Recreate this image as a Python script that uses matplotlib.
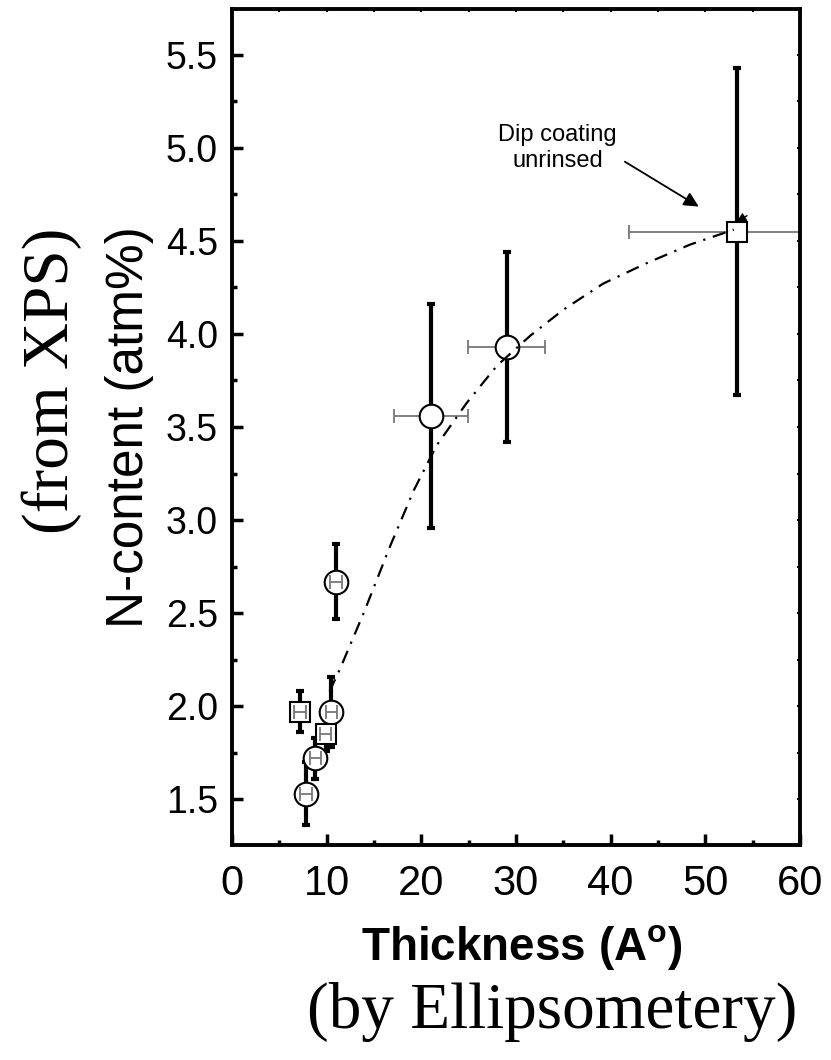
import numpy as np
import matplotlib
matplotlib.use('Agg')
import matplotlib.pyplot as plt
from matplotlib.ticker import MultipleLocator

# circles (open)
circle_x = [7.8, 8.8, 10.5, 11.0, 21.0, 29.0]
circle_y = [1.53, 1.72, 1.97, 2.67, 3.56, 3.93]
circle_xerr = [0.6, 0.6, 0.6, 0.6, 3.9, 4.1]
circle_yerr = [0.17, 0.11, 0.19, 0.2, 0.6, 0.51]

# squares (open)
square_x = [7.2, 9.9, 53.3]
square_y = [1.97, 1.85, 4.55]
square_xerr = [0.6, 0.6, 11.4]
square_yerr = [0.11, 0.09, 0.88]

# dash-dot guide curve
fit_x = [10.3, 11.4, 13.9, 16.7, 19.2, 21.6, 24.8, 28.0, 31.5, 35.0, 39.2, 43.8, 48.4, 53.0]
fit_y = [2.08, 2.20, 2.50, 2.86, 3.16, 3.40, 3.63, 3.83, 3.99, 4.13, 4.27, 4.38, 4.48, 4.56]

x_ticks = [0, 10, 20, 30, 40, 50, 60]
y_ticks = [1.5, 2.0, 2.5, 3.0, 3.5, 4.0, 4.5, 5.0, 5.5]

sans = ['Liberation Sans', 'DejaVu Sans']
serif = ['Liberation Serif', 'DejaVu Serif']
plt.rcParams['font.family'] = sans
plt.rcParams['mathtext.fontset'] = 'custom'
plt.rcParams['mathtext.rm'] = 'Liberation Sans:bold'

fig = plt.figure(figsize=(8.31, 10.6), dpi=100)
fig.patch.set_facecolor('white')
ax = fig.add_axes([0.2792, 0.2028, 0.6835, 0.7887])


def draw_points(xs, ys, xerrs, yerrs, marker, msize):
    for x, y, xe, ye in zip(xs, ys, xerrs, yerrs):
        # thick vertical error bar behind the marker
        ax.errorbar(x, y, yerr=ye, fmt='none', ecolor='black', elinewidth=3,
                    capsize=3, capthick=3, zorder=2)
        # thin grey horizontal bar; small ones show on top of marker
        z = 5 if xe < 1 else 1
        ax.errorbar(x, y, xerr=xe, fmt='none', ecolor='#777777', elinewidth=1.3,
                    capsize=5, capthick=1.3, zorder=z)
        ax.plot(x, y, marker=marker, ms=msize, mfc='white', mec='black',
                mew=1.5, ls='none', zorder=4)


draw_points(circle_x, circle_y, circle_xerr, circle_yerr, 'o', 17)
draw_points(square_x, square_y, square_xerr, square_yerr, 's', 15)

ax.plot(fit_x, fit_y, color='black', lw=1.6, ls=(0, (6, 3.5, 1, 3.5)), zorder=6)

ax.text(34.4, 5.0, 'Dip coating\nunrinsed', ha='center', va='center',
        multialignment='center', fontsize=17, linespacing=1.25)
ax.annotate('', xy=(49.3, 4.684), xytext=(41.5, 4.925),
            arrowprops=dict(arrowstyle='-|>', color='black', lw=1.3,
                            mutation_scale=22, shrinkA=0, shrinkB=0))
ax.annotate('', xy=(53.3, 4.6), xytext=(54.4, 4.635),
            arrowprops=dict(arrowstyle='-|>', color='black', lw=1.0,
                            mutation_scale=14, shrinkA=0, shrinkB=0), zorder=7)

ax.set_xlim(0, 60)
ax.set_ylim(1.255, 5.745)
ax.set_xticks(x_ticks)
ax.set_yticks(y_ticks)
ax.set_xticklabels([str(t) for t in x_ticks], fontsize=30)
ax.set_yticklabels(['%.1f' % t for t in y_ticks], fontsize=27)
ax.xaxis.set_minor_locator(MultipleLocator(5))
ax.yaxis.set_minor_locator(MultipleLocator(0.25))
ax.tick_params(axis='both', which='major', direction='in', length=8, width=2.5)
ax.tick_params(axis='both', which='minor', direction='in', length=3.5, width=2.5)
ax.tick_params(axis='x', which='major', pad=14)
ax.tick_params(axis='y', which='major', pad=10)
for s in ax.spines.values():
    s.set_linewidth(2.8)

# tiny ticks on top and right
top = ax.secondary_xaxis('top')
top.set_xticks(x_ticks)
top.xaxis.set_minor_locator(MultipleLocator(5))
top.tick_params(which='both', direction='in', length=2.5, width=1.5, labeltop=False)
top.spines['top'].set_visible(False)
right = ax.secondary_yaxis('right')
right.set_yticks(y_ticks)
right.yaxis.set_minor_locator(MultipleLocator(0.25))
right.tick_params(which='both', direction='in', length=2.5, width=1.5, labelright=False)
right.spines['right'].set_visible(False)

ax.set_ylabel('N-content (atm%)', fontsize=37)
ax.yaxis.set_label_coords(-0.138, 0.5)
ax.set_xlabel(r'Thickness (A$^{\mathrm{o}}$)', fontsize=33, fontweight='bold')
ax.xaxis.set_label_coords(0.51, -0.093)

fig.text(0.062, 0.641, '(from XPS)', rotation=90, ha='center', va='center',
         fontsize=47, family=serif)
fig.text(0.664, 0.03, '(by Ellipsometery)', ha='center', va='baseline',
         fontsize=47, family=serif)

fig.savefig('out.png', dpi=100, facecolor='white')
